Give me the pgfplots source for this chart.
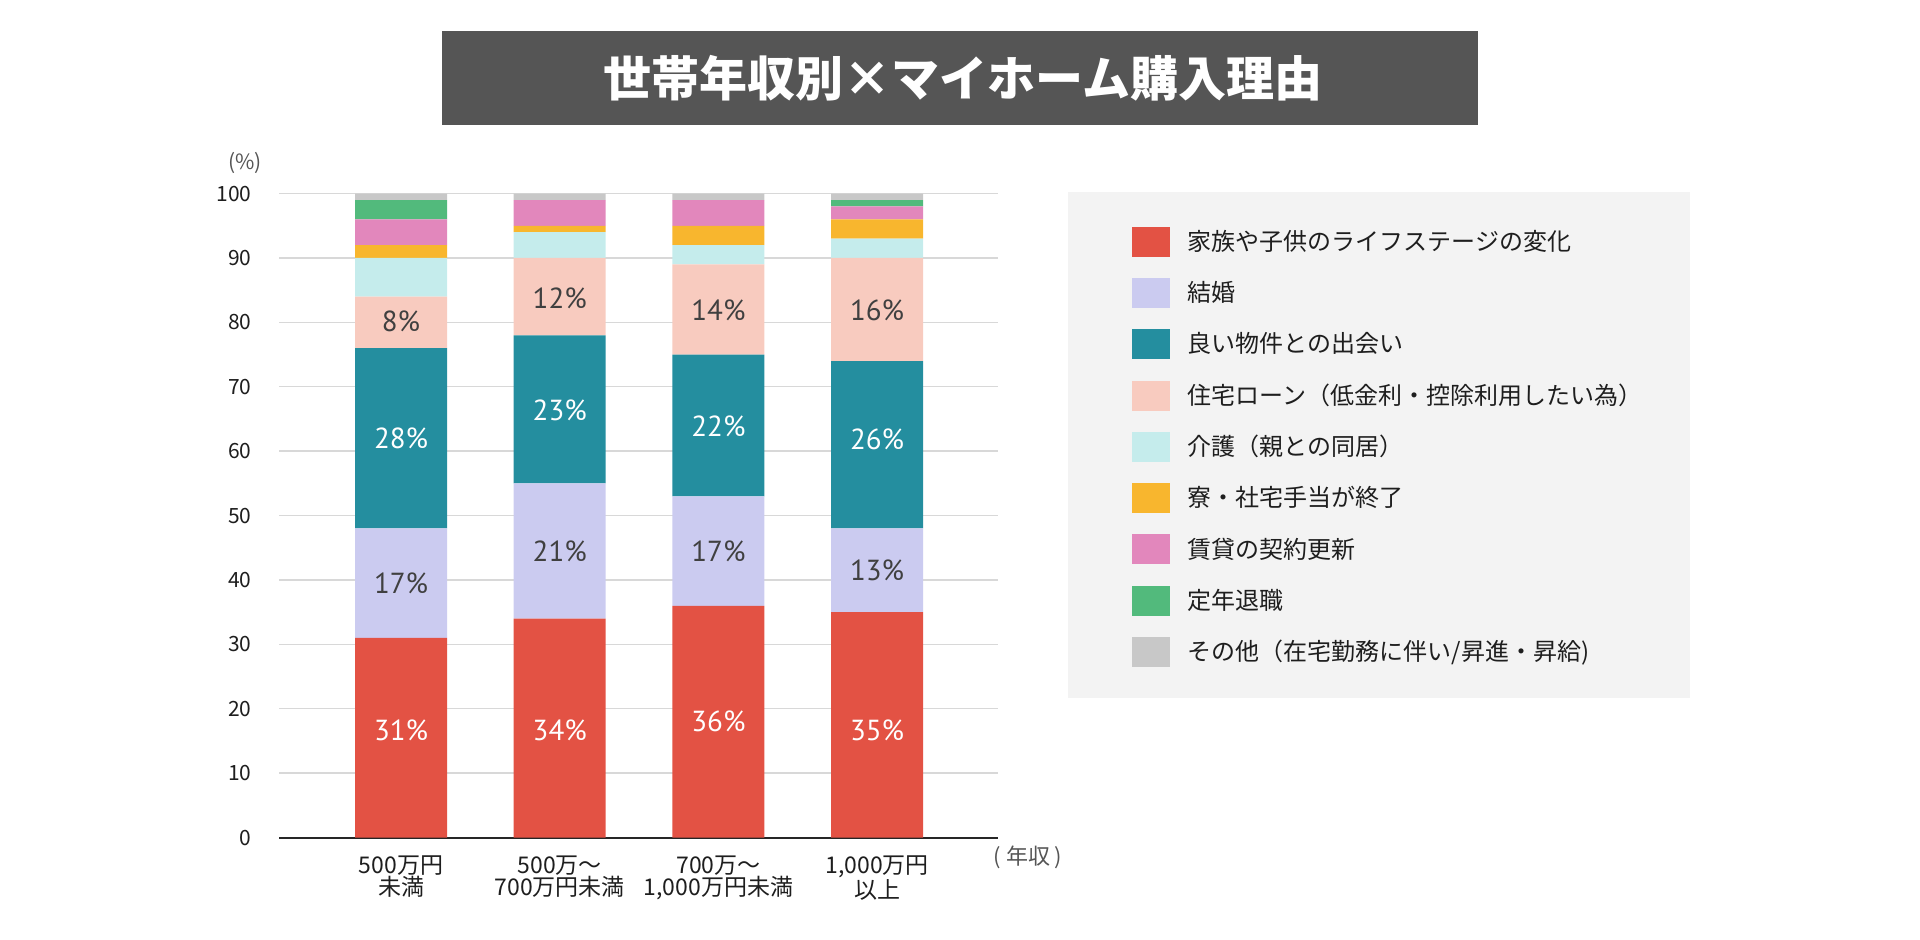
\documentclass[border=0pt]{standalone}
\usepackage{fontspec}
\setmainfont{Noto Sans CJK JP}
\newfontfamily\barfont{PT Sans}
\usepackage{pgfplots}
\pgfplotsset{compat=1.18}
\usepackage{pgfplotstable}

\definecolor{cKazoku}{HTML}{E35244}
\definecolor{cKekkon}{HTML}{CBCBF0}
\definecolor{cBukken}{HTML}{248E9F}
\definecolor{cLoan}{HTML}{F8CBBF}
\definecolor{cKaigo}{HTML}{C5ECEC}
\definecolor{cRyo}{HTML}{F8B62E}
\definecolor{cChintai}{HTML}{E287BC}
\definecolor{cTeinen}{HTML}{52BA7C}
\definecolor{cOther}{HTML}{C8C8C8}
\definecolor{cTitle}{HTML}{555555}
\definecolor{cLegendBg}{HTML}{F3F3F3}
\definecolor{cDark}{HTML}{404040}
\definecolor{cText}{HTML}{1E1E1E}
\definecolor{cGrid}{HTML}{D8D8D8}
\definecolor{cNote}{HTML}{555555}

% x: 0 = <500, 1 = 500-700, 2 = 700-1000, 3 = >=1000 ; v = percent
\pgfplotstableread{
x v
0 31
1 34
2 36
3 35
}\tKazoku
\pgfplotstableread{
x v
0 17
1 21
2 17
3 13
}\tKekkon
\pgfplotstableread{
x v
0 28
1 23
2 22
3 26
}\tBukken
\pgfplotstableread{
x v
0 8
1 12
2 14
3 16
}\tLoan
\pgfplotstableread{
x v
0 6
1 4
2 3
3 3
}\tKaigo
\pgfplotstableread{
x v
0 2
1 1
2 3
3 3
}\tRyo
\pgfplotstableread{
x v
0 4
1 4
2 4
3 2
}\tChintai
\pgfplotstableread{
x v
0 3
1 0
2 0
3 1
}\tTeinen
\pgfplotstableread{
x v
0 1
1 1
2 1
3 1
}\tOther
% label positions for the four labelled series
\pgfplotstableread{
x yc v
0 16.7 31
1 16.7 34
2 18 36
3 16.7 35
}\lKazoku
\pgfplotstableread{
x yc v
0 39.5 17
1 44.5 21
2 44.5 17
3 41.5 13
}\lKekkon
\pgfplotstableread{
x yc v
0 62 28
1 66.4 23
2 63.8 22
3 61.8 26
}\lBukken
\pgfplotstableread{
x yc v
0 80.1 8
1 83.8 12
2 81.9 14
3 81.8 16
}\lLoan

\pgfplotsset{
  geom/.style={
    at={(139.5pt,51.2pt)}, anchor=south west,
    scale only axis, width=359.5pt, height=322pt,
    xmin=-0.769, xmax=3.762, ymin=0, ymax=100,
  },
  seglabel/.style={
    draw=none, mark=none,
    point meta=explicit,
    /pgf/number format/assume math mode=true,
    nodes near coords={\pgfmathprintnumber{\pgfplotspointmeta}\%},
    nodes near coords style={font=\barfont\fontsize{14.5}{15}\selectfont,
      text=#1, anchor=center, inner sep=0pt},
  },
}

\begin{document}
\begin{tikzpicture}
\useasboundingbox (0,0) rectangle (960pt,470pt);
% title
\fill[cTitle] (221pt,407.55pt) rectangle (739pt,454.7pt);
\node[text=white, font=\bfseries\fontsize{24}{28}\selectfont] at (481.5pt,431.1pt) {世帯年収別×マイホーム購入理由};
% legend background
\fill[cLegendBg] (534pt,121pt) rectangle (845pt,373.9pt);
% unit notes
\node[text=cNote, font=\fontsize{10.5}{12}\selectfont] at (122.5pt,388.5pt) {(\%)};
\node[text=cNote, font=\fontsize{11}{12}\selectfont] at (514pt,41.5pt) {( 年収 )};

\begin{axis}[
  geom,
  ybar stacked, bar width=46pt,
  axis x line*=bottom, axis y line*=left,
  y axis line style={draw=none},
  x axis line style={draw=black!85, line width=1pt, -},
  major tick length=0pt,
  xtick={0,1,2,3},
  xticklabels={{500万円\\未満},{500万～\\700万円未満},{700万～\\1,000万円未満},{1,000万円\\以上}},
  ytick={0,10,20,30,40,50,60,70,80,90,100},
  ymajorgrids, grid style={draw=cGrid, line width=0.7pt},
  /pgf/number format/assume math mode=true,
  yticklabel style={font=\fontsize{10.5}{12}\selectfont, anchor=east, inner sep=0pt, xshift=-13.5pt, text=cText},
  xticklabel style={font=\fontsize{11.5}{11.3}\selectfont, align=center, anchor=north, inner sep=0pt, yshift=-8.8pt, text=cText},
  legend cell align=left,
  legend image code/.code={\fill[#1] (0pt,-7.5pt) rectangle (18.75pt,7.5pt);},
  legend style={at={(axis description cs:1.1864,0.9490)}, anchor=north west,
    draw=none, fill=none, inner sep=0pt, outer sep=0pt,
    row sep=9.95pt, column sep=7.2pt,
    font=\fontsize{12}{13}\selectfont, text=cText},
]
\addplot[fill=cKazoku, draw=none] table[x=x, y=v] {\tKazoku};
\addplot[fill=cKekkon, draw=none] table[x=x, y=v] {\tKekkon};
\addplot[fill=cBukken, draw=none] table[x=x, y=v] {\tBukken};
\addplot[fill=cLoan, draw=none] table[x=x, y=v] {\tLoan};
\addplot[fill=cKaigo, draw=none] table[x=x, y=v] {\tKaigo};
\addplot[fill=cRyo, draw=none] table[x=x, y=v] {\tRyo};
\addplot[fill=cChintai, draw=none] table[x=x, y=v] {\tChintai};
\addplot[fill=cTeinen, draw=none] table[x=x, y=v] {\tTeinen};
\addplot[fill=cOther, draw=none] table[x=x, y=v] {\tOther};
\legend{家族や子供のライフステージの変化,結婚,良い物件との出会い,住宅ローン（低金利・控除利用したい為）,介護（親との同居）,寮・社宅手当が終了,賃貸の契約更新,定年退職,その他（在宅勤務に伴い/昇進・昇給)}
\end{axis}

\begin{axis}[geom, hide axis]
\addplot[seglabel=white] table[x=x, y=yc, meta=v] {\lKazoku};
\addplot[seglabel=cDark] table[x=x, y=yc, meta=v] {\lKekkon};
\addplot[seglabel=white] table[x=x, y=yc, meta=v] {\lBukken};
\addplot[seglabel=cDark] table[x=x, y=yc, meta=v] {\lLoan};
\end{axis}
\end{tikzpicture}
\end{document}
